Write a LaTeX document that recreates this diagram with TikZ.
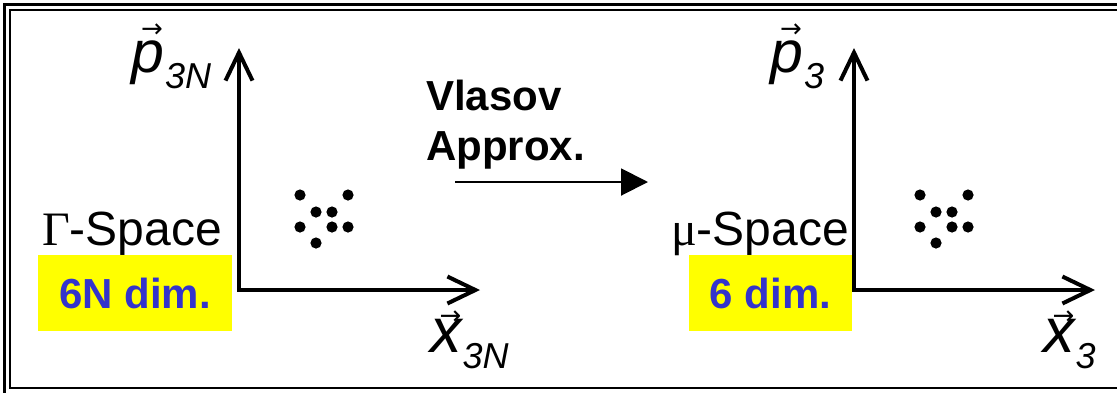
\documentclass[tikz,border=0pt]{standalone}
\usepackage{fontspec}
\setmainfont{Liberation Sans}
\newfontfamily\greekserif{Liberation Serif}
\newfontfamily\arrowfont{DejaVu Sans}
\usetikzlibrary{arrows.meta}
\definecolor{dimblue}{RGB}{51,51,204}
\definecolor{dimyellow}{RGB}{255,255,0}

% vector symbol: italic letter with an arrow above, then a lowered italic subscript
% #1 letter, #2 letter size, #3 gap under the arrow, #4 subscript
\newcommand\vecsym[4]{%
  \leavevmode
  \vbox{\offinterlineskip
    \halign{\hfil##\hfil\cr
      \kern9pt{\fontsize{26}{26}\arrowfont →}\cr
      \noalign{\kern#3}
      {\fontsize{#2}{#2}\selectfont\itshape #1}\cr}}%
  \kern1pt\raisebox{-16pt}{\fontsize{36}{36}\selectfont\itshape #4}}

\tikzset{
  frame/.style={line width=2.8pt},
  axis/.style={line width=4pt, {Straight Barb[length=28pt,width=27pt]}-{Straight Barb[length=28pt,width=27pt]}},
  spacelabel/.style={anchor=base west, inner sep=0pt, font=\fontsize{48}{50}\selectfont},
  dimbox/.style={fill=dimyellow, inner sep=0pt, text=dimblue,
    font=\fontsize{42}{44}\selectfont\bfseries},
  boldtext/.style={anchor=base west, inner sep=0pt, font=\fontsize{42}{44}\selectfont\bfseries},
  veclabel/.style={anchor=base west, inner sep=0pt},
  dot/.style={fill=black},
}

\begin{document}
\begin{tikzpicture}[x=1pt,y=-1pt]
\useasboundingbox (0,0) rectangle (1117,392);
\clip (0,0) rectangle (1117,392);

% double frame
\draw[frame] (4.5,4.5) rectangle (1140,410);
\draw[frame] (10,10) rectangle (1126,388);

% ---- Gamma space ----
\coordinate (o1) at (239,290);
\coordinate (p1) at (239,48);
\coordinate (x1) at (480,290);
\draw[axis] (p1) -- (o1) -- (x1);

\node[veclabel] (plab1) at (131,72) {\vecsym{p}{59}{2.5pt}{3N}};
\node[veclabel] (xlab1) at (430,352) {\vecsym{x}{63}{-6pt}{3N}};

\node[spacelabel] (gspace) at (42,245) {{\greekserif Γ}-Space};
\node[dimbox, minimum width=194pt, minimum height=76pt] (gdim) at (135,293) {6N dim.};

\foreach \px/\py in {300/195,348/195,316/212,332/212,300/227,332/227,348/227,316/243}
  \fill[dot] (\px,\py) circle (5.6);

% ---- Vlasov arrow ----
\node[boldtext] (vl1) at (426,110) {Vlasov};
\node[boldtext] (vl2) at (426,160) {Approx.};
\coordinate (va) at (455,182);
\coordinate (vb) at (648,182);
\draw[line width=2pt, -{Triangle[length=27pt,width=27pt]}] (va) -- (vb);

% ---- mu space ----
\coordinate (o2) at (854,290);
\coordinate (p2) at (854,48);
\coordinate (x2) at (1095,290);
\draw[axis] (p2) -- (o2) -- (x2);

\node[veclabel] (plab2) at (770,72) {\vecsym{p}{59}{2.5pt}{3}};
\node[veclabel] (xlab2) at (1043,352) {\vecsym{x}{63}{-6pt}{3}};

\node[spacelabel] (mspace) at (671,245) {{\greekserif μ}-Space};
\node[dimbox, minimum width=163pt, minimum height=76pt] (mdim) at (770.5,293) {6 dim.};

\foreach \px/\py in {920/195,968/195,936/212,952/212,920/227,952/227,968/227,936/243}
  \fill[dot] (\px,\py) circle (5.6);
\end{tikzpicture}
\end{document}
